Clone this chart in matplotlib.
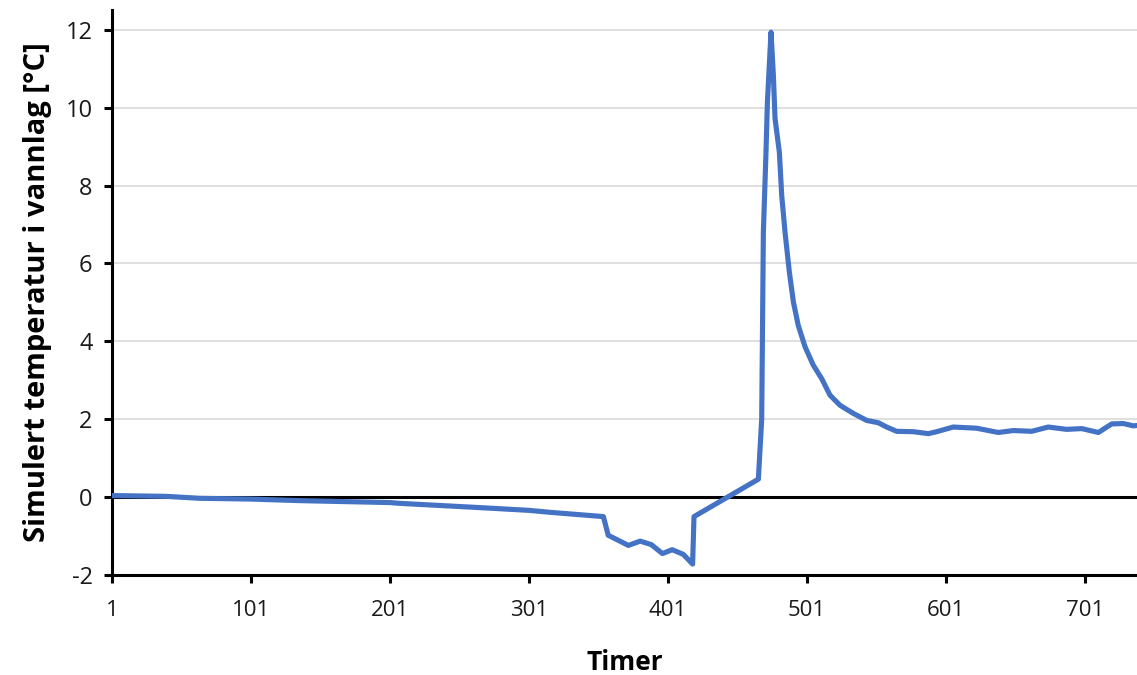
import matplotlib
matplotlib.use("Agg")
import matplotlib.pyplot as plt

# Simulated water-layer temperature per hour
hours = [1, 40, 64, 101, 136, 201, 208, 266, 301, 316, 354.5,
         358, 372.5, 381, 389, 397, 404, 412, 418.7,
         419.7, 466,
         468.4, 469.6, 471.5, 472.5, 475.1,
         476.8, 478, 481.1, 482.8, 485.2, 488.3, 491.2, 494.7,
         499.6, 505.5, 511.6, 517.5, 524.7, 534.3, 543.9, 552.3, 558.3,
         565.5, 577.5, 588.3, 594.2, 606.2, 623, 638.6, 649.4, 662.6,
         674.6, 687.8, 698.6, 710.6, 720.2, 728.6, 735.8, 738.4]
temps = [0.04, 0.02, -0.03, -0.05, -0.09, -0.14, -0.16, -0.27, -0.34, -0.39, -0.50,
         -0.98, -1.24, -1.13, -1.22, -1.45, -1.35, -1.47, -1.72,
         -0.50, 0.46,
         2.0, 6.8, 8.86, 10.14, 11.94,
         10.83, 9.72, 8.86, 7.75, 6.8, 5.78, 5.01, 4.41,
         3.86, 3.39, 3.04, 2.62, 2.36, 2.15, 1.97, 1.91, 1.80,
         1.69, 1.68, 1.63, 1.68, 1.80, 1.77, 1.66, 1.71, 1.69,
         1.80, 1.74, 1.76, 1.66, 1.88, 1.89, 1.83, 1.84]

x_ticks = [1, 101, 201, 301, 401, 501, 601, 701]
y_ticks = [-2, 0, 2, 4, 6, 8, 10, 12]

plt.rcParams['font.family'] = ['Open Sans', 'DejaVu Sans']

fig = plt.figure(figsize=(11.37, 6.75), dpi=100)
ax = fig.add_axes([112 / 1137, 100 / 675, 1 - 112 / 1137, 565 / 675])

for y in y_ticks[2:]:
    ax.axhline(y, color='#d9d9d9', lw=1.2, zorder=0)
ax.axhline(0, color='black', lw=2.2, zorder=1)

ax.plot(hours, temps, color='#4472C4', lw=3.7, zorder=3,
        solid_joinstyle='round', solid_capstyle='round')

ax.set_xlim(1, 738.4)
ax.set_ylim(-2, 12.51)
ax.set_xticks(x_ticks)
ax.set_yticks(y_ticks)
ax.set_xticklabels([str(v) for v in x_ticks])
ax.set_yticklabels([str(v) for v in y_ticks])

for side in ('top', 'right'):
    ax.spines[side].set_visible(False)
for side in ('left', 'bottom'):
    ax.spines[side].set_linewidth(2.2)
    ax.spines[side].set_color('black')

ax.tick_params(axis='both', direction='out', length=6, width=2.2,
               color='black', labelsize=16, labelcolor='#1a1a1a')
ax.tick_params(axis='x', pad=12)
ax.tick_params(axis='y', pad=8, labelsize=17)

ax.set_xlabel('Timer', fontsize=19, fontweight='bold', labelpad=20)
ax.set_ylabel('Simulert temperatur i vannlag [°C]', fontsize=21,
              fontweight='bold', labelpad=10)

fig.savefig('out.png', dpi=100)
